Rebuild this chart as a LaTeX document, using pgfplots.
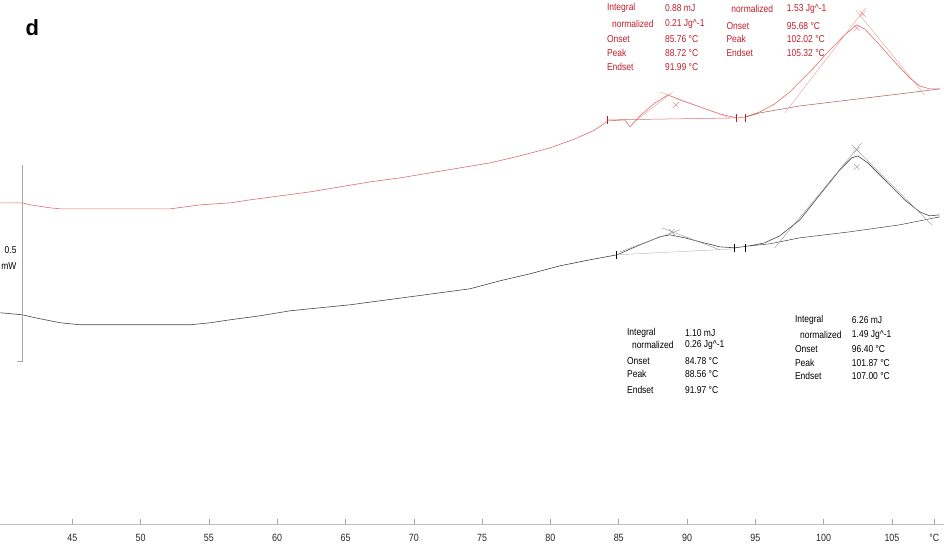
\documentclass[border=0pt]{standalone}
\usepackage{fontspec}
\setmainfont{Liberation Sans}
\newfontfamily\annfont[FakeStretch=0.85]{Liberation Sans}
\usepackage{pgfplots}
\pgfplotsset{compat=1.18}
\definecolor{redtext}{RGB}{190,30,40}
\definecolor{redcurve}{RGB}{220,110,110}
\definecolor{blkcurve}{RGB}{70,70,70}
\definecolor{tan}{RGB}{150,150,150}
\begin{document}
\begin{tikzpicture}
\begin{axis}[
  scale only axis, width=944pt, height=525pt,
  xmin=39.733, xmax=108.79, ymin=0, ymax=525,
  axis x line*=bottom, axis y line=none,
  x axis line style={gray!50, line width=0.6pt},
  xtick={45,50,...,105,108.1},
  xticklabels={45,50,55,60,65,70,75,80,85,90,95,100,105,°C},
  minor x tick num=4,
  tick align=inside,
  major tick length=6pt, minor tick length=4pt,
  every tick/.style={gray!70, line width=0.5pt},
  xticklabel style={font=\annfont\fontsize{10.5}{12}\selectfont, text=black!85, yshift=-6pt},
  clip=false,
]
% bounding box of the whole picture
\path (axis cs:39.733,-28) rectangle (axis cs:108.79,525);

% ---------------- red curve (upper) ----------------
\addplot[redcurve, line width=0.6pt] coordinates {
(39.73,322) (41.34,322) (41.93,320) (43.39,317) (44.12,316) (52.17,316)
(53.27,318) (54.36,320) (56.56,322) (58.02,325) (60.22,329) (62.41,333)
(64.60,338) (66.80,343) (69.00,347) (71.19,352) (73.38,357) (75.58,362)
(77.77,369) (79.97,377) (81.79,386) (83.26,395) (84.21,404) (85.45,405)
(85.82,398) (86.55,409) (87.65,422) (88.60,430) (89.47,425) (90.94,418)
(92.40,411) (93.65,407) (94.30,408) (95.33,413) (96.42,421) (97.52,433)
(98.99,453) (100.45,475) (101.54,490) (102.42,500) (103.01,496) (104.10,480)
(105.20,463) (106.30,447) (107.03,439) (107.76,436) (108.50,436)};
% red baselines
\addplot[redcurve, line width=0.5pt] coordinates {(84.21,405) (93.65,407)};
\addplot[redcurve!80!black, line width=0.5pt] coordinates {(94.30,408) (95.33,412) (98.26,419) (101.91,425) (105.57,431) (108.50,436)};
% red tangents
\addplot[redcurve!70, line width=0.4pt] coordinates {(85.96,401) (88.96,433)};
\addplot[redcurve!70, line width=0.4pt] coordinates {(88.01,433) (93.13,407)};
\addplot[redcurve!70, line width=0.4pt] coordinates {(97.16,412) (103.08,517)};
\addplot[redcurve!70, line width=0.4pt] coordinates {(102.35,515) (107.40,430)};
\addplot[only marks, mark=x, mark size=4pt, redcurve!80, mark options={line width=0.4pt}] coordinates {(89.18,420) (102.86,511) (102.42,497)};
\addplot[only marks, mark=|, mark size=4pt, redtext, mark options={line width=0.9pt}] coordinates {(84.21,405) (93.65,407) (94.30,407)};

% ---------------- black curve (lower) ----------------
\addplot[blkcurve, line width=0.6pt] coordinates {
(39.73,212) (41.34,210) (42.29,207) (44.12,202) (45.58,200) (53.63,200)
(55.10,202) (56.56,205) (58.75,209) (60.95,214) (63.14,217) (65.34,220)
(67.53,224) (69.73,228) (71.92,232) (74.11,236) (76.31,244) (78.50,251)
(80.70,259) (82.89,265) (84.87,270) (86.55,280) (88.01,288) (88.74,290)
(89.84,287) (90.94,283) (92.40,278) (93.50,277) (94.60,279) (95.69,282)
(96.79,289) (98.26,305) (99.72,330) (101.18,355) (102.06,367) (102.50,369)
(103.23,362) (104.47,345) (105.93,325) (107.03,313) (107.76,309) (108.50,310)};
% black baselines
\addplot[gray!50, line width=0.5pt] coordinates {(84.87,270) (93.50,276)};
\addplot[blkcurve, line width=0.5pt] coordinates {(94.60,279) (96.06,281) (98.26,287) (101.91,293) (105.57,300) (108.50,308)};
% black tangents
\addplot[tan, line width=0.4pt] coordinates {(85.09,273) (89.47,295)};
\addplot[tan, line width=0.4pt] coordinates {(88.16,297) (92.40,275)};
\addplot[tan, line width=0.4pt] coordinates {(96.42,277) (102.79,382)};
\addplot[tan, line width=0.4pt] coordinates {(102.06,380) (107.91,300)};
\addplot[only marks, mark=x, mark size=4pt, tan, mark options={line width=0.4pt}] coordinates {(88.89,293) (102.42,375) (102.42,358)};
\addplot[only marks, mark=|, mark size=4pt, black, mark options={line width=0.9pt}] coordinates {(84.87,270) (93.50,277) (94.30,277)};

% ---------------- scale bar ----------------
\addplot[gray!70, line width=0.6pt] coordinates {(41.34,360) (41.34,163) (40.95,163)};
\node[anchor=east, font=\annfont\fontsize{10}{11}\selectfont, inner sep=0pt] at (axis cs:40.93,275) {0.5};
\node[anchor=east, font=\annfont\fontsize{10}{11}\selectfont, inner sep=0pt] at (axis cs:40.93,259) {mW};

% panel label
\node[font=\bfseries\fontsize{22}{24}\selectfont, inner sep=0pt] at (axis cs:42.07,497) {d};

% ---------------- red annotations ----------------
\begin{scope}[every node/.style={anchor=west, inner sep=0pt, text=redtext, font=\annfont\fontsize{10}{11}\selectfont}]
\node at (axis cs:84.13,517) {Integral};
\node at (axis cs:84.50,501) {normalized};
\node at (axis cs:84.13,486) {Onset};
\node at (axis cs:84.13,472) {Peak};
\node at (axis cs:84.13,458) {Endset};
\node at (axis cs:88.38,517) {0.88 mJ};
\node at (axis cs:88.38,501) {0.21 Jg\textasciicircum-1};
\node at (axis cs:88.38,486) {85.76 °C};
\node at (axis cs:88.38,472) {88.72 °C};
\node at (axis cs:88.38,458) {91.99 °C};
\node at (axis cs:93.24,516) {normalized};
\node at (axis cs:92.88,499) {Onset};
\node at (axis cs:92.88,486) {Peak};
\node at (axis cs:92.88,472) {Endset};
\node at (axis cs:97.30,516) {1.53 Jg\textasciicircum-1};
\node at (axis cs:97.30,499) {95.68 °C};
\node at (axis cs:97.30,486) {102.02 °C};
\node at (axis cs:97.30,472) {105.32 °C};
\end{scope}

% ---------------- black annotations ----------------
\begin{scope}[every node/.style={anchor=west, inner sep=0pt, text=black, font=\annfont\fontsize{10}{11}\selectfont}]
\node at (axis cs:85.60,192) {Integral};
\node at (axis cs:85.96,180) {normalized};
\node at (axis cs:85.60,164) {Onset};
\node at (axis cs:85.60,151) {Peak};
\node at (axis cs:85.60,135) {Endset};
\node at (axis cs:89.84,192) {1.10 mJ};
\node at (axis cs:89.84,180) {0.26 Jg\textasciicircum-1};
\node at (axis cs:89.84,164) {84.78 °C};
\node at (axis cs:89.84,151) {88.56 °C};
\node at (axis cs:89.84,135) {91.97 °C};
\node at (axis cs:97.89,205) {Integral};
\node at (axis cs:98.26,190) {normalized};
\node at (axis cs:97.89,176) {Onset};
\node at (axis cs:97.89,162) {Peak};
\node at (axis cs:97.89,149) {Endset};
\node at (axis cs:102.06,205) {6.26 mJ};
\node at (axis cs:102.06,190) {1.49 Jg\textasciicircum-1};
\node at (axis cs:102.06,176) {96.40 °C};
\node at (axis cs:102.06,162) {101.87 °C};
\node at (axis cs:102.06,149) {107.00 °C};
\end{scope}
\end{axis}
\end{tikzpicture}
\end{document}
